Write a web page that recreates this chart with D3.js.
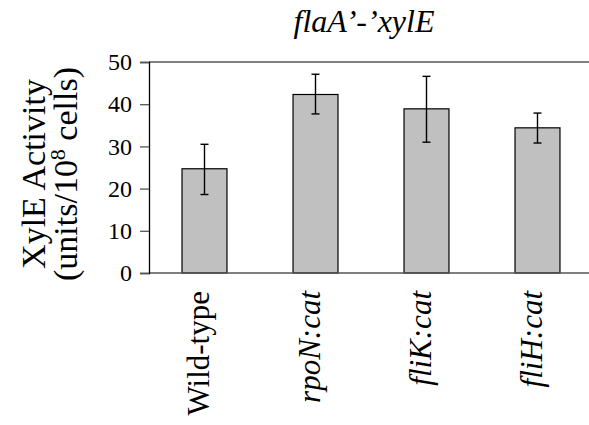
<!DOCTYPE html>
<html>
<head>
<meta charset="utf-8">
<script src="https://cdn.jsdelivr.net/npm/d3@7"></script>
<style>
  html, body { margin: 0; padding: 0; background: #fff; }
  svg { display: block; }
</style>
</head>
<body>
<svg id="chart" width="589" height="425"></svg>
<script>
// Strains and measured XylE activity (units/10^8 cells)
const strains = ["Wild-type", "rpoN:cat", "fliK:cat", "fliH:cat"];
const italicLabel = [false, true, true, true];
const activity = [24.7, 42.3, 38.9, 34.4];
const errLow = [18.6, 37.7, 31.0, 30.8];
const errHigh = [30.5, 47.1, 46.6, 37.9];
const yTicks = [0, 10, 20, 30, 40, 50];

const serif = "'Liberation Serif', 'Times New Roman', 'DejaVu Serif', serif";
const svg = d3.select("#chart");
const plotLeft = 149, plotRight = 593, plotTop = 62, plotBottom = 273;

const x = d3.scaleBand().domain(strains).range([plotLeft, plotRight]).paddingInner(0.595).paddingOuter(0.2975);
const y = d3.scaleLinear().domain([0, 50]).range([plotBottom, plotTop]);

// frame line at 50
svg.append("line").attr("x1", plotLeft).attr("x2", 589).attr("y1", y(50)).attr("y2", y(50))
  .attr("stroke", "#555").attr("stroke-width", 1.3);

// bars
svg.append("g").selectAll("rect").data(strains).join("rect")
  .attr("x", d => x(d))
  .attr("width", x.bandwidth())
  .attr("y", (d, i) => y(activity[i]))
  .attr("height", (d, i) => y(0) - y(activity[i]))
  .attr("fill", "#c0c0c0")
  .attr("stroke", "#000")
  .attr("stroke-width", 1.2);

// error bars
const eb = svg.append("g").attr("stroke", "#000").attr("stroke-width", 1.4);
strains.forEach((d, i) => {
  const cx = x(d) + x.bandwidth() / 2;
  eb.append("line").attr("x1", cx).attr("x2", cx).attr("y1", y(errLow[i])).attr("y2", y(errHigh[i]));
  eb.append("line").attr("x1", cx - 4).attr("x2", cx + 4).attr("y1", y(errLow[i])).attr("y2", y(errLow[i]));
  eb.append("line").attr("x1", cx - 4).attr("x2", cx + 4).attr("y1", y(errHigh[i])).attr("y2", y(errHigh[i]));
});

// baseline
svg.append("line").attr("x1", plotLeft).attr("x2", 589).attr("y1", y(0)).attr("y2", y(0))
  .attr("stroke", "#555").attr("stroke-width", 1.3);

// y axis
const yAxis = svg.append("g").attr("transform", `translate(${plotLeft},0)`)
  .call(d3.axisLeft(y).tickValues(yTicks).tickSize(9).tickPadding(8).tickFormat(d3.format("d")));
yAxis.select(".domain").attr("stroke", "#000").attr("stroke-width", 1.3);
yAxis.selectAll(".tick line").attr("stroke", "#555").attr("stroke-width", 1.3);
yAxis.selectAll(".tick text")
  .style("font-family", serif).style("font-size", "24px").attr("fill", "#000");

// category labels, rotated
svg.append("g").selectAll("text").data(strains).join("text")
  .attr("transform", d => `translate(${x(d) + x.bandwidth() / 2 + 4},291) rotate(-90)`)
  .attr("text-anchor", "end")
  .style("font-family", serif)
  .style("font-size", "31px")
  .style("font-style", (d, i) => italicLabel[i] ? "italic" : "normal")
  .text(d => d);

// title
svg.append("text").attr("x", 364).attr("y", 32).attr("text-anchor", "middle")
  .style("font-family", serif).style("font-size", "32px").style("font-style", "italic")
  .text("flaA\u2019-\u2019xylE");

// y axis title, two lines
const yl = svg.append("g").attr("transform", "translate(45,174) rotate(-90)")
  .style("font-family", serif).style("font-size", "34px");
yl.append("text").attr("text-anchor", "middle").text("XylE Activity");
const l2 = yl.append("text").attr("text-anchor", "middle").attr("y", 32);
l2.append("tspan").text("(units/10");
l2.append("tspan").style("font-size", "22px").attr("dy", "-0.55em").text("8");
l2.append("tspan").attr("dy", "0.36em").text(" cells)");
</script>
</body>
</html>
